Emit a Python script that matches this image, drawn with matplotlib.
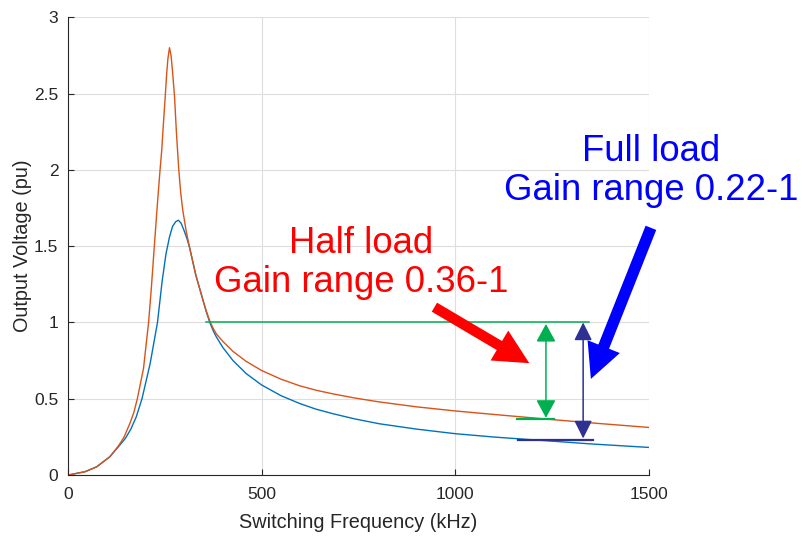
import matplotlib
matplotlib.use('Agg')
import matplotlib.pyplot as plt

# Half load (orange) gain curve
half_freq = [0, 44, 74, 108, 130, 145, 160, 170, 179, 195, 208, 215, 222, 230, 237, 242, 247, 251,
             255, 258, 262, 266, 270, 275, 280, 286, 291, 296, 305, 314, 330, 348, 357, 366,
             375, 383, 400, 426, 460, 500, 550, 598, 640, 684, 740, 804, 900, 1000, 1100, 1234, 1350, 1500]
half_gain = [0, 0.022, 0.054, 0.12, 0.19, 0.25, 0.34, 0.41, 0.5, 0.7, 1.0, 1.22, 1.47, 1.75, 1.98, 2.13, 2.33, 2.48,
             2.64, 2.73, 2.80, 2.75, 2.64, 2.48, 2.24, 2.0, 1.85, 1.74, 1.6, 1.49, 1.31, 1.15, 1.075, 1.01,
             0.96, 0.925, 0.875, 0.81, 0.745, 0.685, 0.628, 0.585, 0.556, 0.532, 0.505, 0.479, 0.447, 0.42, 0.397,
             0.367, 0.342, 0.312]

# Full load (blue) gain curve
full_freq = [0, 44, 74, 108, 135, 148, 162, 176, 191, 212, 231, 243, 253, 262, 270, 278, 285, 292,
             300, 307, 313, 330, 348, 357, 366, 375, 383, 400, 426, 460, 500, 550, 598, 640, 684, 740, 804, 900,
             1000, 1100, 1234, 1350, 1500]
full_gain = [0, 0.022, 0.054, 0.12, 0.2, 0.24, 0.3, 0.38, 0.5, 0.73, 1.0, 1.27, 1.45, 1.56, 1.63, 1.66, 1.67, 1.65,
             1.6, 1.55, 1.5, 1.31, 1.15, 1.07, 1.0, 0.945, 0.905, 0.835, 0.75, 0.665, 0.59, 0.52, 0.469, 0.432,
             0.402, 0.368, 0.336, 0.301, 0.271, 0.249, 0.225, 0.204, 0.181]

# Annotation values
ref_level = 1.0
ref_start, ref_end = 357, 1345
half_min = 0.37
half_min_span = (1158, 1255)
half_arrow_x = 1234
full_min = 0.228
full_min_span = (1161, 1356)
full_arrow_x = 1330

x_ticks = [0, 500, 1000, 1500]
y_ticks = [0, 0.5, 1, 1.5, 2, 2.5, 3]
y_tick_labels = ['0', '0.5', '1', '1.5', '2', '2.5', '3']

plt.rcParams['font.family'] = ['Liberation Sans', 'DejaVu Sans']

fig = plt.figure(figsize=(8.03, 5.38), dpi=100)
ax = fig.add_axes([0.0847, 0.117, 0.7235, 0.851])

ax.plot(full_freq, full_gain, color='#0072BD', lw=1.0)
ax.plot(half_freq, half_gain, color='#D95319', lw=1.0)

ax.set_xlim(0, 1500)
ax.set_ylim(0, 3)
ax.set_xticks(x_ticks)
ax.set_yticks(y_ticks)
ax.set_yticklabels(y_tick_labels)
ax.grid(True, color='#dedede', lw=0.8)
ax.set_axisbelow(True)
for side in ['top', 'right']:
    ax.spines[side].set_visible(False)
for side in ['left', 'bottom']:
    ax.spines[side].set_color('#262626')
    ax.spines[side].set_linewidth(0.8)
ax.tick_params(direction='in', length=4, width=0.8, colors='#262626', labelsize=12.5)
ax.tick_params(axis='x', pad=8.5)
ax.tick_params(axis='y', pad=7)
ax.set_xlabel('Switching Frequency (kHz)', fontsize=14.3, color='#262626', labelpad=8)
ax.set_ylabel('Output Voltage (pu)', fontsize=14.3, color='#262626', labelpad=1.5)

# green and navy reference lines
ax.plot([ref_start, ref_end], [ref_level, ref_level], color='#00B050', lw=1.1)
ax.plot(half_min_span, [half_min, half_min], color='#00B050', lw=1.6)
ax.plot(full_min_span, [full_min, full_min], color='#2E3192', lw=1.6)

ax.annotate('', xy=(half_arrow_x, half_min + 0.005), xytext=(half_arrow_x, ref_level - 0.01),
            arrowprops=dict(arrowstyle='<|-|>,head_length=1.1,head_width=0.6', mutation_scale=10,
                            color='#00B050', lw=1.1, shrinkA=0, shrinkB=0))
ax.annotate('', xy=(full_arrow_x, full_min + 0.012), xytext=(full_arrow_x, ref_level),
            arrowprops=dict(arrowstyle='<|-|>,head_length=1.1,head_width=0.55', mutation_scale=10,
                            color='#2E3192', lw=1.1, shrinkA=0, shrinkB=0))

# big pointer arrows
ax.annotate('', xy=(1191, 0.733), xytext=(946, 1.10), annotation_clip=False,
            arrowprops=dict(arrowstyle='simple,head_length=1.0,head_width=1.0,tail_width=0.3',
                            mutation_scale=25, color='#FF0000', lw=0, shrinkA=0, shrinkB=0))
ax.annotate('', xy=(1350, 0.63), xytext=(1505, 1.62), annotation_clip=False,
            arrowprops=dict(arrowstyle='simple,head_length=1.0,head_width=1.0,tail_width=0.33',
                            mutation_scale=25, color='#0000FF', lw=0, shrinkA=0, shrinkB=0))

ax.text(758, 1.39, 'Half load\nGain range 0.36-1', color='#FF0000', fontsize=26.3,
        ha='center', va='center', multialignment='center', linespacing=1.15)
ax.text(1505, 1.99, 'Full load\nGain range 0.22-1', color='#0000FF', fontsize=26.3,
        ha='center', va='center', multialignment='center', linespacing=1.15, clip_on=False)

fig.savefig('out.png', dpi=100)
